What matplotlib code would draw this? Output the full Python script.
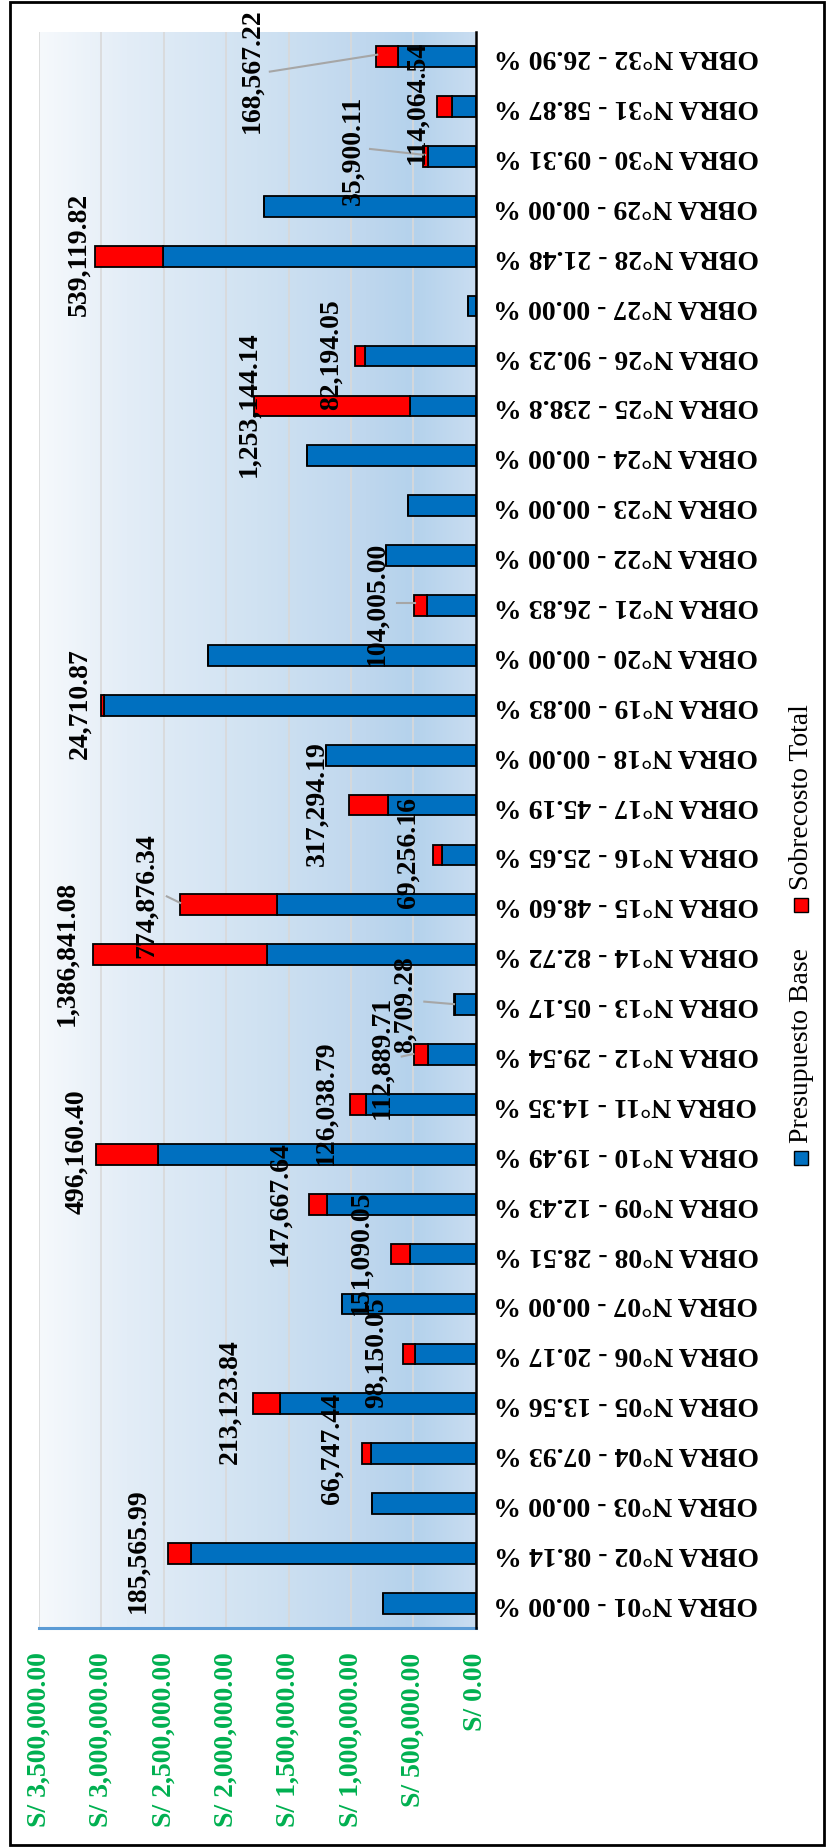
import matplotlib
matplotlib.use("Agg")
import matplotlib.pyplot as plt
import numpy as np
from matplotlib.colors import LinearSegmentedColormap
from matplotlib.patches import Rectangle

# ---------------- data ----------------
obra_numbers = [f"{i:02d}" for i in range(1, 33)]
percent_labels = ["00.00", "08.14", "00.00", "07.93", "13.56", "20.17", "00.00", "28.51",
                  "12.43", "19.49", "14.35", "29.54", "05.17", "82.72", "48.60", "25.65",
                  "45.19", "00.00", "00.83", "00.00", "26.83", "00.00", "00.00", "00.00",
                  "238.8", "90.23", "00.00", "21.48", "00.00", "09.31", "58.87", "26.90"]
presupuesto_base = [740000, 2279680, 828500, 841708, 1571709, 486614, 1073700, 529955,
                    1187993, 2545717, 878319, 382159, 168458, 1676549, 1594396, 270004,
                    702134, 1199500, 2977213, 2147400, 387644, 718800, 540000, 1354200,
                    524767, 884900, 64100, 2509869, 1693900, 385608, 193758, 626644]
sobrecosto_total = [0, 185565.99, 0, 66747.44, 213123.84, 98150.05, 0, 151090.05,
                    147667.64, 496160.40, 126038.79, 112889.71, 8709.28, 1386841.08, 774876.34, 69256.16,
                    317294.19, 0, 24710.87, 0, 104005.00, 0, 0, 0,
                    1253144.14, 82194.05, 0, 539119.82, 0, 35900.11, 114064.54, 168567.22]
x_ticks = [0, 500000, 1000000, 1500000, 2000000, 2500000, 3000000, 3500000]

# label placement (data coords: value axis, category index) for each non-zero sobrecosto
label_pos = {1: (2703500, 1.06), 3: (1153800, 3.11), 4: (1968750, 4.05), 5: (793300, 5.02),
             7: (919100, 7.03), 8: (1568100, 8.02), 9: (3197100, 9.06), 10: (1199500, 10.03),
             11: (753200, 10.95), 12: (566500, 12.0), 13: (3277200, 13.02), 14: (2636200, 14.18),
             15: (540100, 15.05), 16: (1269200, 16.03), 18: (3170700, 18.03), 20: (793300, 20.04),
             24: (1816500, 24.03), 25: (1153800, 25.03), 27: (3178700, 27.03), 29: (985600, 29.13),
             30: (472800, 30.09), 31: (1794900, 30.72)}
leader_lines = {31: ((1650000, 30.70), (789600, 31.04)),
                29: ((847000, 29.15), (406200, 29.03)),
                20: ((633000, 20.04), (486400, 20.04)),
                14: ((2476000, 14.17), (2369000, 14.04)),
                12: ((411900, 12.06), (173900, 12.01)),
                11: ((593000, 10.96), (500000, 11.01))}

# ---------------- figure ----------------
W, H = 828, 1847
fig = plt.figure(figsize=(W / 100, H / 100), dpi=100)
serif = ["Liberation Serif", "DejaVu Serif"]

ax = fig.add_axes([39 / W, 1 - 1628.3 / H, (475.7 - 39) / W, (1628.3 - 31.7) / H])

# gradient background
stops = [(0.0, "#F6F9FC"), (0.2, "#E3EDF7"), (0.5, "#D0E2F2"), (0.75, "#BFD7EE"),
         (0.86, "#B4D2EC"), (1.0, "#C9DDF1")]
cmap = LinearSegmentedColormap.from_list("bg", stops)
grad = np.linspace(0, 1, 512).reshape(1, -1)
ax.imshow(grad, extent=(0, 1, 0, 1), transform=ax.transAxes, aspect="auto",
          cmap=cmap, zorder=-10, interpolation="bilinear")

idx = np.arange(len(obra_numbers))
base = np.array(presupuesto_base, dtype=float)
sob = np.array(sobrecosto_total, dtype=float)
ax.barh(idx, base, height=0.415, color="#0070C0", edgecolor="black", linewidth=1.3,
        label="Presupuesto Base", zorder=3)
ax.barh(idx, sob, left=base, height=0.415, color="#FF0000", edgecolor="black",
        linewidth=1.3, label="Sobrecosto Total", zorder=3)

ax.set_xlim(3500000, 0)
ax.set_ylim(-0.5, len(obra_numbers) - 0.5)
ax.set_xticks(x_ticks)
ax.set_xticklabels([f"S/ {v:,.2f}" for v in x_ticks], rotation=90, color="#00B050",
                   fontsize=20, fontweight="bold", family=serif)
ax.tick_params(axis="x", length=0, pad=17.5)
ax.grid(axis="x", color="#D9D9D9", linewidth=1.2, zorder=1)
ax.set_axisbelow(True)

ax.yaxis.tick_right()
ax.set_yticks(idx)
ax.set_yticklabels([f"OBRA N°{n} - {p} %" for n, p in zip(obra_numbers, percent_labels)],
                   rotation=180, fontsize=20, fontweight="bold", family=serif, va="center")
ax.tick_params(axis="y", length=0, pad=13)

for s in ["left", "top"]:
    ax.spines[s].set_visible(False)
ax.spines["right"].set_color("black")
ax.spines["right"].set_linewidth(1.8)
ax.spines["right"].set_zorder(5)
ax.spines["bottom"].set_color("#5B9BD5")
ax.spines["bottom"].set_linewidth(2.2)

# value labels
for i, (lx, ly) in label_pos.items():
    ax.text(lx, ly, f"{sobrecosto_total[i]:,.2f}", rotation=90, ha="center", va="center",
            fontsize=20, fontweight="bold", family=serif, color="black", zorder=6)
for i, ((x0, y0), (x1, y1)) in leader_lines.items():
    ax.plot([x0, x1], [y0, y1], color="#A6A6A6", linewidth=1.5, zorder=4)

# legend (vertical)
def fx(px):
    return px / W

def fy(py):
    return 1 - py / H

fig.patches.append(Rectangle((fx(794), fy(1165)), 14 / W, 14 / H, transform=fig.transFigure,
                             facecolor="#0070C0", edgecolor="black", linewidth=1))
fig.patches.append(Rectangle((fx(794), fy(912)), 14 / W, 14 / H, transform=fig.transFigure,
                             facecolor="#FF0000", edgecolor="black", linewidth=1))
fig.text(fx(802), fy(1143), "Presupuesto Base", rotation=90, ha="center", va="bottom",
         fontsize=20, family=serif)
fig.text(fx(802), fy(890), "Sobrecosto Total", rotation=90, ha="center", va="bottom",
         fontsize=20, family=serif)

# outer frame
fig.patches.append(Rectangle((fx(10), fy(1845)), (824 - 10) / W, (1845 - 2) / H,
                             transform=fig.transFigure, fill=False, edgecolor="black",
                             linewidth=2))

fig.savefig("out.png", dpi=100)
